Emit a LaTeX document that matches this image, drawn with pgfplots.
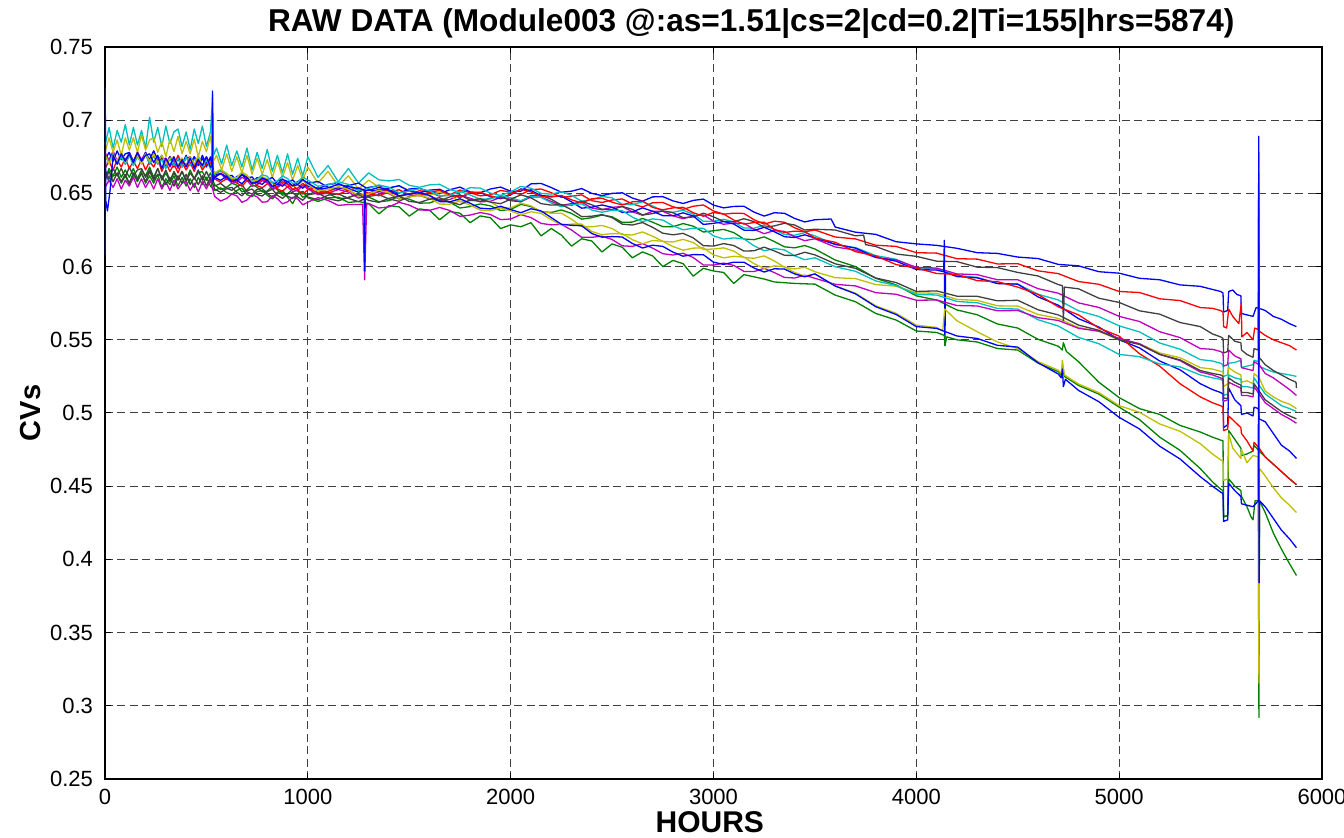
\documentclass[border=0pt]{standalone}
\usepackage{pgfplots}
\pgfplotsset{compat=1.18}
\usepackage{fontspec}
\setmainfont{Liberation Sans}
\usetikzlibrary{calc}
\definecolor{mb}{rgb}{0,0,1}
\definecolor{mg}{rgb}{0,0.5,0}
\definecolor{mr}{rgb}{1,0,0}
\definecolor{mc}{rgb}{0,0.75,0.75}
\definecolor{mm}{rgb}{0.75,0,0.75}
\definecolor{my}{rgb}{0.75,0.75,0}
\definecolor{mk}{rgb}{0.25,0.25,0.25}
\begin{document}
\begin{tikzpicture}
\begin{axis}[
 scale only axis, width=608.5pt, height=366pt,
 xmin=0, xmax=6000, ymin=0.25, ymax=0.75,
 xtick={0,1000,2000,3000,4000,5000,6000},
 ytick={0.25,0.3,0.35,0.4,0.45,0.5,0.55,0.6,0.65,0.7,0.75},
 grid=major,
 major grid style={dash pattern=on 4pt off 2.2pt, black!75, line width=0.5pt},
 axis line style={line width=0.9pt},
 tick style={black, line width=0.5pt}, tick align=inside, major tick length=3pt,
 /pgf/number format/assume math mode=true,
 /pgf/number format/1000 sep={},
 ticklabel style={font=\fontsize{11}{13}\selectfont},
 yticklabel style={xshift=-2.5pt},
 xticklabel style={yshift=-1.5pt},
 title={RAW DATA (Module003 @:as=1.51|cs=2|cd=0.2|Ti=155|hrs=5874)},
 title style={font=\bfseries\fontsize{15.8}{18}\selectfont, at={(0.531,1.0342)}, anchor=center, yshift=-7pt},
 xlabel={HOURS},
 xlabel style={font=\bfseries\fontsize{15}{18}\selectfont, at={(0.497,-0.0585)}, anchor=center},
 ylabel={CVs},
 ylabel style={font=\bfseries\fontsize{14.5}{17}\selectfont, at={(-0.0616,0.5)}, anchor=center},
 every axis plot/.append style={line width=0.65pt, line join=round, mark=none},
]
\coordinate (bl) at (rel axis cs:0,0);
\coordinate (tr) at (rel axis cs:1,1);
% blue A
\addplot[mb] coordinates {(0,0.677)(20,0.671)(40,0.676)(60,0.670)(80,0.677)(100,0.672)(120,0.678)(140,0.671)(160,0.676)(180,0.671)(200,0.677)(220,0.670)(240,0.676)(260,0.672)(280,0.676)(300,0.669)(320,0.675)(340,0.669)(360,0.674)(380,0.668)(400,0.675)(420,0.670)(440,0.675)(460,0.669)(480,0.676)(500,0.670)(520,0.674)(540,0.6625)(570,0.6636)(600,0.6597)(625,0.6586)(650,0.6615)(675,0.6632)(700,0.6589)(725,0.6573)(750,0.6607)(775,0.6609)(800,0.6571)(825,0.6548)(850,0.6584)(875,0.6599)(900,0.6563)(925,0.6552)(950,0.6581)(975,0.6596)(1000,0.655)(1050,0.6531)(1100,0.6562)(1150,0.6568)(1200,0.6534)(1250,0.6508)(1300,0.6541)(1350,0.6552)(1400,0.6523)(1450,0.6502)(1500,0.653)(1550,0.6535)(1600,0.651)(1650,0.6498)(1700,0.6525)(1750,0.6543)(1800,0.651)(1850,0.6505)(1900,0.653)(1950,0.6543)(2000,0.6515)(2050,0.6515)(2100,0.6565)(2150,0.6568)(2200,0.654)(2250,0.6508)(2300,0.6515)(2350,0.6533)(2400,0.650)(2450,0.6485)(2500,0.650)(2550,0.6504)(2600,0.6468)(2650,0.6447)(2700,0.6476)(2750,0.6478)(2800,0.6449)(2850,0.6431)(2900,0.6452)(2950,0.6461)(3000,0.642)(3050,0.6401)(3100,0.6411)(3150,0.6412)(3200,0.6372)(3250,0.6345)(3300,0.6368)(3350,0.6364)(3400,0.6329)(3450,0.6305)(3500,0.632)(3580,0.6325)(3600,0.627)(3700,0.6235)(3800,0.622)(3900,0.617)(4000,0.6155)(4100,0.6145)(4200,0.6125)(4300,0.6095)(4400,0.609)(4500,0.6065)(4600,0.6055)(4700,0.6015)(4800,0.6005)(4900,0.5965)(5000,0.5955)(5100,0.592)(5200,0.591)(5300,0.5875)(5400,0.5865)(5500,0.583)(5512,0.582)(5515,0.569)(5535,0.570)(5540,0.583)(5560,0.584)(5580,0.581)(5600,0.580)(5603,0.568)(5630,0.567)(5660,0.566)(5675,0.572)(5700,0.571)(5720,0.570)(5760,0.566)(5800,0.564)(5840,0.561)(5874,0.559)};
% green A
\addplot[mg] coordinates {(0,0.660)(20,0.667)(40,0.662)(60,0.668)(80,0.661)(100,0.666)(120,0.661)(140,0.667)(160,0.660)(180,0.666)(200,0.662)(220,0.668)(240,0.661)(260,0.667)(280,0.659)(300,0.664)(320,0.658)(340,0.665)(360,0.660)(380,0.665)(400,0.659)(420,0.666)(440,0.660)(460,0.664)(480,0.665)(500,0.659)(520,0.664)(540,0.656)(570,0.6526)(600,0.6542)(625,0.6569)(650,0.6556)(675,0.651)(700,0.6524)(725,0.6559)(750,0.6543)(775,0.651)(800,0.6516)(825,0.6551)(850,0.6525)(875,0.6487)(900,0.6498)(925,0.6528)(950,0.6517)(975,0.6474)(1000,0.649)(1050,0.652)(1100,0.650)(1150,0.6465)(1200,0.647)(1250,0.6503)(1300,0.6475)(1350,0.6443)(1400,0.645)(1450,0.648)(1500,0.646)(1550,0.6433)(1600,0.6435)(1650,0.6458)(1700,0.644)(1750,0.640)(1800,0.641)(1850,0.6428)(1900,0.6415)(1950,0.6383)(2000,0.639)(2050,0.6425)(2100,0.641)(2150,0.6375)(2200,0.637)(2250,0.6387)(2300,0.6363)(2350,0.6324)(2400,0.6334)(2450,0.6352)(2500,0.634)(2550,0.6302)(2600,0.6304)(2650,0.6329)(2700,0.6303)(2750,0.6273)(2800,0.6272)(2850,0.6294)(2900,0.6276)(2950,0.6236)(3000,0.6245)(3050,0.6254)(3100,0.6232)(3150,0.6188)(3200,0.6184)(3250,0.6203)(3300,0.6171)(3350,0.6135)(3400,0.6128)(3450,0.6144)(3500,0.612)(3600,0.6045)(3700,0.600)(3800,0.592)(3900,0.5875)(4000,0.580)(4100,0.5772)(4200,0.5704)(4300,0.5671)(4400,0.5608)(4500,0.558)(4600,0.5503)(4700,0.5456)(4720,0.543)(4725,0.548)(4740,0.542)(4800,0.535)(4900,0.521)(5000,0.5105)(5100,0.503)(5200,0.499)(5300,0.4915)(5400,0.487)(5460,0.4835)(5500,0.4815)(5512,0.481)(5515,0.429)(5535,0.430)(5540,0.488)(5570,0.482)(5600,0.476)(5603,0.471)(5630,0.472)(5660,0.474)(5665,0.478)(5690,0.474)(5720,0.470)(5760,0.465)(5800,0.460)(5840,0.455)(5874,0.451)};
% red A
\addplot[mr] coordinates {(0,0.678)(20,0.671)(40,0.676)(60,0.671)(80,0.677)(100,0.670)(120,0.676)(140,0.672)(160,0.678)(180,0.671)(200,0.677)(220,0.671)(240,0.676)(260,0.670)(280,0.675)(300,0.670)(320,0.675)(340,0.669)(360,0.676)(380,0.670)(400,0.674)(420,0.675)(440,0.669)(460,0.674)(480,0.668)(500,0.675)(520,0.670)(528,0.671)(530,0.718)(532,0.664)(540,0.663)(570,0.6654)(600,0.6627)(625,0.6589)(650,0.6591)(675,0.6631)(700,0.661)(725,0.6567)(750,0.6574)(775,0.6596)(800,0.6578)(825,0.6533)(850,0.6548)(875,0.658)(900,0.6562)(925,0.6529)(950,0.6536)(975,0.6568)(1000,0.654)(1050,0.6502)(1100,0.6514)(1150,0.6539)(1200,0.6523)(1250,0.6483)(1300,0.6502)(1350,0.6529)(1400,0.6516)(1450,0.6481)(1500,0.6495)(1550,0.6518)(1600,0.651)(1650,0.648)(1700,0.649)(1750,0.6523)(1800,0.6505)(1850,0.6483)(1900,0.649)(1950,0.652)(2000,0.651)(2050,0.6493)(2100,0.6525)(2150,0.653)(2200,0.6505)(2250,0.6473)(2300,0.648)(2350,0.649)(2400,0.645)(2450,0.6438)(2500,0.6455)(2550,0.6462)(2600,0.6428)(2650,0.6407)(2700,0.6436)(2750,0.6438)(2800,0.6409)(2850,0.6391)(2900,0.6412)(2950,0.6421)(3000,0.638)(3050,0.6358)(3100,0.6365)(3150,0.6363)(3200,0.632)(3250,0.629)(3300,0.631)(3350,0.6303)(3400,0.6265)(3450,0.6238)(3500,0.625)(3600,0.6202)(3700,0.6189)(3800,0.6146)(3900,0.6138)(4000,0.6095)(4100,0.6092)(4200,0.6054)(4300,0.6051)(4400,0.6018)(4500,0.602)(4600,0.5971)(4700,0.5952)(4800,0.5898)(4900,0.5879)(5000,0.583)(5100,0.5823)(5200,0.578)(5300,0.5768)(5400,0.572)(5460,0.5715)(5500,0.570)(5512,0.569)(5515,0.559)(5530,0.558)(5540,0.571)(5560,0.566)(5590,0.561)(5602,0.575)(5605,0.552)(5630,0.555)(5660,0.550)(5668,0.558)(5686,0.557)(5688,0.678)(5690,0.556)(5720,0.553)(5760,0.550)(5800,0.548)(5840,0.546)(5874,0.543)};
% cyan A
\addplot[mc] coordinates {(0,0.683)(20,0.695)(40,0.681)(60,0.693)(80,0.685)(100,0.697)(120,0.683)(140,0.695)(160,0.683)(180,0.693)(200,0.681)(220,0.702)(240,0.685)(260,0.695)(280,0.682)(300,0.696)(320,0.684)(340,0.692)(360,0.694)(380,0.682)(400,0.692)(420,0.680)(440,0.694)(460,0.684)(480,0.696)(500,0.682)(520,0.692)(530,0.716)(535,0.676)(550,0.681)(575,0.670)(600,0.683)(625,0.669)(650,0.679)(675,0.668)(700,0.681)(725,0.666)(750,0.678)(775,0.667)(800,0.680)(825,0.665)(850,0.676)(875,0.664)(900,0.677)(925,0.663)(950,0.674)(975,0.662)(1000,0.675)(1050,0.661)(1100,0.669)(1150,0.658)(1200,0.667)(1250,0.657)(1300,0.664)(1350,0.6593)(1400,0.6585)(1450,0.6595)(1500,0.6555)(1550,0.6542)(1600,0.6558)(1650,0.6562)(1700,0.6526)(1750,0.6508)(1800,0.6539)(1850,0.6536)(1900,0.6502)(1950,0.6486)(2000,0.651)(2050,0.6548)(2100,0.6535)(2150,0.650)(2200,0.6495)(2250,0.6511)(2300,0.6486)(2350,0.6447)(2400,0.6458)(2450,0.6479)(2500,0.647)(2550,0.6426)(2600,0.6422)(2650,0.6443)(2700,0.6414)(2750,0.6378)(2800,0.6371)(2850,0.6385)(2900,0.6358)(2950,0.6309)(3000,0.631)(3050,0.6323)(3100,0.6306)(3150,0.6264)(3200,0.6262)(3250,0.6283)(3300,0.6253)(3350,0.6219)(3400,0.6214)(3450,0.6232)(3500,0.621)(3600,0.615)(3700,0.613)(3800,0.6075)(3900,0.605)(4000,0.599)(4100,0.5984)(4200,0.5938)(4300,0.5927)(4400,0.5886)(4500,0.588)(4600,0.5811)(4700,0.5772)(4800,0.5698)(4900,0.5659)(5000,0.5595)(5100,0.5554)(5200,0.5478)(5300,0.5436)(5400,0.5365)(5460,0.5355)(5500,0.534)(5512,0.533)(5515,0.525)(5535,0.526)(5540,0.534)(5570,0.5345)(5600,0.536)(5603,0.531)(5630,0.532)(5660,0.533)(5665,0.536)(5687,0.535)(5689,0.664)(5691,0.532)(5720,0.530)(5760,0.528)(5800,0.527)(5840,0.526)(5874,0.525)};
% magenta A
\addplot[mm] coordinates {(0,0.677)(20,0.673)(40,0.679)(60,0.672)(80,0.678)(100,0.672)(120,0.677)(140,0.671)(160,0.678)(180,0.673)(200,0.678)(220,0.672)(240,0.679)(260,0.673)(280,0.673)(300,0.674)(320,0.668)(340,0.673)(360,0.667)(380,0.674)(400,0.669)(420,0.675)(440,0.668)(460,0.673)(480,0.668)(500,0.674)(520,0.667)(540,0.661)(570,0.6634)(600,0.6608)(625,0.6571)(650,0.6573)(675,0.6611)(700,0.6589)(725,0.6549)(750,0.6559)(775,0.6587)(800,0.6574)(825,0.6527)(850,0.6539)(875,0.6567)(900,0.6545)(925,0.6513)(950,0.652)(975,0.6555)(1000,0.653)(1050,0.6491)(1100,0.6502)(1150,0.6526)(1200,0.6509)(1250,0.6468)(1300,0.6486)(1350,0.6512)(1400,0.6498)(1450,0.6462)(1500,0.6475)(1550,0.6495)(1600,0.6484)(1650,0.6451)(1700,0.6458)(1750,0.6488)(1800,0.6467)(1850,0.6442)(1900,0.6446)(1950,0.6473)(2000,0.646)(2050,0.6443)(2100,0.6475)(2150,0.6475)(2200,0.6445)(2250,0.6418)(2300,0.643)(2350,0.644)(2400,0.640)(2450,0.6388)(2500,0.6405)(2550,0.641)(2600,0.6374)(2650,0.6351)(2700,0.6378)(2750,0.6378)(2800,0.6347)(2850,0.6327)(2900,0.6346)(2950,0.6353)(3000,0.631)(3050,0.6289)(3100,0.6297)(3150,0.6296)(3200,0.6254)(3250,0.6225)(3300,0.6246)(3350,0.624)(3400,0.6203)(3450,0.6177)(3500,0.619)(3600,0.6134)(3700,0.6113)(3800,0.6062)(3900,0.6046)(4000,0.5995)(4100,0.599)(4200,0.595)(4300,0.5945)(4400,0.591)(4500,0.591)(4600,0.5849)(4700,0.5818)(4800,0.5752)(4900,0.5721)(5000,0.566)(5100,0.5625)(5200,0.5555)(5300,0.5515)(5400,0.544)(5460,0.5435)(5500,0.542)(5512,0.541)(5515,0.532)(5535,0.533)(5540,0.543)(5570,0.539)(5600,0.537)(5603,0.531)(5630,0.530)(5660,0.529)(5665,0.535)(5690,0.533)(5720,0.527)(5760,0.524)(5800,0.520)(5840,0.516)(5874,0.512)};
% yellow A
\addplot[my] coordinates {(0,0.678)(20,0.688)(40,0.678)(60,0.6865)(80,0.676)(100,0.688)(120,0.6795)(140,0.688)(160,0.678)(180,0.690)(200,0.6795)(220,0.6865)(240,0.688)(260,0.678)(280,0.6855)(300,0.675)(320,0.687)(340,0.6785)(360,0.689)(380,0.677)(400,0.6855)(420,0.677)(440,0.687)(460,0.675)(480,0.6855)(500,0.6785)(520,0.689)(535,0.672)(550,0.676)(575,0.666)(600,0.677)(625,0.665)(650,0.675)(675,0.664)(700,0.676)(725,0.663)(750,0.674)(775,0.663)(800,0.673)(825,0.661)(850,0.672)(875,0.661)(900,0.671)(925,0.659)(950,0.669)(975,0.659)(1000,0.668)(1050,0.657)(1100,0.665)(1150,0.655)(1200,0.662)(1250,0.653)(1300,0.659)(1350,0.6543)(1400,0.6535)(1450,0.6553)(1500,0.652)(1550,0.6489)(1600,0.6488)(1650,0.6507)(1700,0.6486)(1750,0.6443)(1800,0.6449)(1850,0.6461)(1900,0.6442)(1950,0.6401)(2000,0.640)(2050,0.6433)(2100,0.6415)(2150,0.6375)(2200,0.6365)(2250,0.6365)(2300,0.6324)(2350,0.6273)(2400,0.6272)(2450,0.6281)(2500,0.626)(2550,0.6218)(2600,0.6216)(2650,0.6237)(2700,0.6207)(2750,0.6173)(2800,0.6168)(2850,0.6186)(2900,0.6164)(2950,0.6117)(3000,0.612)(3050,0.6128)(3100,0.6106)(3150,0.6062)(3200,0.6057)(3250,0.6073)(3300,0.6038)(3350,0.5996)(3400,0.5984)(3450,0.5995)(3500,0.5965)(3600,0.5924)(3700,0.5918)(3800,0.5877)(3900,0.5866)(4000,0.582)(4100,0.5818)(4200,0.5776)(4300,0.5769)(4400,0.5732)(4500,0.573)(4600,0.5673)(4700,0.5646)(4800,0.5584)(4900,0.5557)(5000,0.550)(5100,0.5473)(5200,0.541)(5300,0.5378)(5400,0.531)(5460,0.530)(5500,0.5285)(5512,0.528)(5515,0.518)(5535,0.520)(5540,0.531)(5570,0.528)(5600,0.526)(5603,0.521)(5630,0.522)(5660,0.520)(5665,0.527)(5690,0.524)(5720,0.515)(5760,0.511)(5800,0.508)(5840,0.506)(5874,0.503)};
% gray A
\addplot[mk] coordinates {(0,0.666)(20,0.660)(40,0.667)(60,0.662)(80,0.667)(100,0.661)(120,0.668)(140,0.662)(160,0.666)(180,0.667)(200,0.661)(220,0.666)(240,0.660)(260,0.667)(280,0.660)(300,0.666)(320,0.659)(340,0.664)(360,0.659)(380,0.665)(400,0.658)(420,0.664)(440,0.660)(460,0.666)(480,0.659)(500,0.665)(520,0.659)(540,0.655)(570,0.6568)(600,0.6535)(625,0.6521)(650,0.6547)(675,0.6559)(700,0.6511)(725,0.6495)(750,0.6528)(775,0.6534)(800,0.650)(825,0.6474)(850,0.6508)(875,0.6519)(900,0.648)(925,0.6467)(950,0.6493)(975,0.6514)(1000,0.6475)(1050,0.6457)(1100,0.6488)(1150,0.6497)(1200,0.6466)(1250,0.6443)(1300,0.6479)(1350,0.6491)(1400,0.6462)(1450,0.6446)(1500,0.648)(1550,0.6487)(1600,0.6463)(1650,0.645)(1700,0.6476)(1750,0.649)(1800,0.6454)(1850,0.6446)(1900,0.6467)(1950,0.6479)(2000,0.645)(2050,0.6443)(2100,0.6485)(2150,0.6488)(2200,0.646)(2250,0.642)(2300,0.6419)(2350,0.6446)(2400,0.6422)(2450,0.6391)(2500,0.639)(2550,0.6411)(2600,0.6391)(2650,0.6352)(2700,0.6362)(2750,0.638)(2800,0.6368)(2850,0.6334)(2900,0.6339)(2950,0.6365)(3000,0.634)(3050,0.6308)(3100,0.6306)(3150,0.6327)(3200,0.6307)(3250,0.6268)(3300,0.6278)(3350,0.6296)(3400,0.6284)(3450,0.625)(3500,0.6255)(3600,0.625)(3700,0.621)(3740,0.6215)(3750,0.615)(3800,0.6137)(3900,0.6086)(4000,0.607)(4100,0.6037)(4200,0.6034)(4300,0.5996)(4400,0.5993)(4500,0.596)(4600,0.5936)(4700,0.5877)(4720,0.587)(4725,0.563)(4730,0.586)(4800,0.5848)(4900,0.5784)(5000,0.5755)(5100,0.5698)(5200,0.5675)(5300,0.5618)(5400,0.559)(5460,0.554)(5500,0.552)(5512,0.551)(5515,0.541)(5535,0.542)(5540,0.553)(5570,0.549)(5600,0.548)(5603,0.543)(5630,0.540)(5660,0.538)(5665,0.544)(5686,0.543)(5688,0.652)(5690,0.538)(5720,0.533)(5760,0.529)(5800,0.526)(5840,0.523)(5872,0.521)(5874,0.517)};
% blue B
\addplot[mb] coordinates {(0,0.673)(20,0.678)(40,0.672)(60,0.679)(80,0.673)(100,0.677)(120,0.678)(140,0.672)(160,0.677)(180,0.671)(200,0.678)(220,0.673)(240,0.679)(260,0.672)(280,0.674)(300,0.669)(320,0.675)(340,0.668)(360,0.674)(380,0.670)(400,0.676)(420,0.669)(440,0.675)(460,0.669)(480,0.674)(500,0.668)(520,0.675)(540,0.661)(570,0.6589)(600,0.6618)(625,0.6623)(650,0.6588)(675,0.6566)(700,0.6603)(725,0.6613)(750,0.6572)(775,0.6562)(800,0.6592)(825,0.6609)(850,0.6566)(875,0.6549)(900,0.6581)(925,0.6591)(950,0.656)(975,0.6535)(1000,0.657)(1050,0.6581)(1100,0.6542)(1150,0.6528)(1200,0.6554)(1250,0.657)(1300,0.6526)(1350,0.6512)(1400,0.6538)(1450,0.6552)(1500,0.6515)(1550,0.6504)(1600,0.6522)(1650,0.6528)(1700,0.6494)(1750,0.6473)(1800,0.6501)(1850,0.6505)(1900,0.6478)(1950,0.6464)(2000,0.649)(2050,0.653)(2100,0.652)(2150,0.6485)(2200,0.648)(2250,0.6481)(2300,0.6442)(2350,0.6399)(2400,0.6406)(2450,0.6421)(2500,0.6405)(2550,0.637)(2600,0.6374)(2650,0.6401)(2700,0.6378)(2750,0.6348)(2800,0.6347)(2850,0.6367)(2900,0.6346)(2950,0.6288)(3000,0.6295)(3050,0.6308)(3100,0.6291)(3150,0.6249)(3200,0.6247)(3250,0.6268)(3300,0.6238)(3350,0.6204)(3400,0.6199)(3450,0.6217)(3500,0.6195)(3600,0.6153)(3700,0.6126)(3800,0.6064)(3900,0.6037)(4000,0.598)(4100,0.5976)(4135,0.5965)(4138,0.618)(4141,0.546)(4144,0.596)(4200,0.5932)(4300,0.5923)(4400,0.5884)(4500,0.588)(4600,0.5793)(4700,0.5736)(4800,0.5644)(4900,0.5587)(5000,0.550)(5100,0.5445)(5200,0.5355)(5300,0.5295)(5400,0.520)(5460,0.516)(5500,0.514)(5512,0.513)(5515,0.490)(5535,0.492)(5540,0.517)(5570,0.509)(5600,0.505)(5603,0.499)(5630,0.500)(5660,0.498)(5665,0.504)(5686,0.503)(5690,0.496)(5720,0.494)(5760,0.486)(5800,0.478)(5840,0.474)(5874,0.469)};
% green B
\addplot[mg] coordinates {(0,0.664)(20,0.658)(40,0.662)(60,0.663)(80,0.657)(100,0.662)(120,0.656)(140,0.663)(160,0.658)(180,0.664)(200,0.657)(220,0.662)(240,0.657)(260,0.663)(280,0.654)(300,0.660)(320,0.656)(340,0.662)(360,0.655)(380,0.661)(400,0.655)(420,0.660)(440,0.654)(460,0.661)(480,0.656)(500,0.661)(520,0.655)(540,0.652)(570,0.6538)(600,0.6505)(625,0.6493)(650,0.652)(675,0.6536)(700,0.6491)(725,0.6477)(750,0.6512)(775,0.652)(800,0.6487)(825,0.6463)(850,0.6498)(875,0.6511)(900,0.6474)(925,0.643)(950,0.6494)(975,0.6512)(1000,0.647)(1050,0.6445)(1100,0.6469)(1150,0.6474)(1200,0.6438)(1250,0.6445)(1300,0.643)(1350,0.636)(1400,0.6416)(1450,0.6408)(1500,0.6345)(1550,0.6394)(1600,0.6385)(1650,0.632)(1700,0.6376)(1750,0.6365)(1800,0.630)(1850,0.6346)(1900,0.6334)(1950,0.626)(2000,0.6285)(2050,0.6272)(2100,0.630)(2150,0.621)(2200,0.626)(2250,0.6215)(2300,0.614)(2350,0.619)(2400,0.6175)(2450,0.610)(2500,0.6155)(2550,0.6132)(2600,0.606)(2650,0.610)(2700,0.6073)(2750,0.600)(2800,0.6042)(2850,0.602)(2900,0.5935)(2950,0.5988)(3000,0.597)(3050,0.596)(3100,0.5885)(3150,0.5945)(3200,0.593)(3250,0.5915)(3300,0.5895)(3400,0.5885)(3500,0.588)(3600,0.5805)(3700,0.576)(3800,0.568)(3900,0.5635)(4000,0.556)(4100,0.555)(4138,0.553)(4141,0.546)(4150,0.552)(4200,0.550)(4300,0.5485)(4400,0.544)(4500,0.543)(4600,0.5341)(4700,0.5282)(4715,0.526)(4720,0.532)(4730,0.525)(4800,0.5188)(4900,0.5129)(5000,0.504)(5100,0.4955)(5200,0.4835)(5300,0.4745)(5400,0.462)(5460,0.453)(5500,0.448)(5512,0.447)(5515,0.429)(5535,0.430)(5540,0.455)(5570,0.450)(5600,0.447)(5603,0.443)(5630,0.436)(5650,0.429)(5660,0.427)(5670,0.440)(5686,0.440)(5689,0.292)(5692,0.440)(5720,0.432)(5760,0.418)(5800,0.407)(5840,0.397)(5874,0.389)};
% red B
\addplot[mr] coordinates {(0,0.667)(20,0.672)(40,0.666)(60,0.673)(80,0.668)(100,0.674)(120,0.667)(140,0.672)(160,0.667)(180,0.673)(200,0.666)(220,0.672)(240,0.668)(260,0.674)(280,0.665)(300,0.671)(320,0.665)(340,0.670)(360,0.664)(380,0.671)(400,0.666)(420,0.671)(440,0.665)(460,0.672)(480,0.666)(500,0.670)(520,0.671)(540,0.660)(570,0.6575)(600,0.660)(625,0.6606)(650,0.6571)(675,0.6549)(700,0.6587)(725,0.6595)(750,0.6553)(775,0.6539)(800,0.6565)(825,0.6578)(850,0.6531)(875,0.6514)(900,0.6547)(925,0.6556)(950,0.6524)(975,0.6495)(1000,0.6525)(1050,0.6541)(1100,0.6506)(1150,0.6494)(1200,0.6522)(1250,0.654)(1300,0.6498)(1350,0.6484)(1400,0.6509)(1450,0.6525)(1500,0.649)(1550,0.6484)(1600,0.6508)(1650,0.652)(1700,0.6491)(1750,0.6473)(1800,0.6504)(1850,0.6508)(1900,0.6482)(1950,0.6469)(2000,0.6495)(2050,0.6528)(2100,0.651)(2150,0.6478)(2200,0.6475)(2250,0.6486)(2300,0.6456)(2350,0.6435)(2400,0.6463)(2450,0.6467)(2500,0.644)(2550,0.6421)(2600,0.6442)(2650,0.6448)(2700,0.6404)(2750,0.6388)(2800,0.6401)(2850,0.6405)(2900,0.6368)(2950,0.6344)(3000,0.637)(3050,0.6359)(3100,0.6318)(3150,0.629)(3200,0.6301)(3250,0.6303)(3300,0.6254)(3350,0.6233)(3400,0.6242)(3450,0.6239)(3500,0.6195)(3600,0.6166)(3700,0.6102)(3800,0.6073)(3900,0.6014)(4000,0.599)(4100,0.5953)(4200,0.5946)(4300,0.5904)(4400,0.5897)(4500,0.586)(4600,0.581)(4700,0.5725)(4800,0.567)(4900,0.558)(5000,0.5525)(5100,0.5405)(5200,0.532)(5300,0.520)(5400,0.511)(5460,0.507)(5500,0.505)(5512,0.504)(5515,0.488)(5535,0.489)(5540,0.498)(5570,0.494)(5600,0.490)(5603,0.486)(5630,0.481)(5660,0.474)(5665,0.480)(5690,0.476)(5720,0.470)(5760,0.465)(5800,0.460)(5840,0.455)(5874,0.451)};
% cyan B
\addplot[mc] coordinates {(0,0.676)(20,0.671)(40,0.677)(60,0.670)(80,0.675)(100,0.670)(120,0.676)(140,0.669)(160,0.675)(180,0.671)(200,0.677)(220,0.670)(240,0.676)(260,0.670)(280,0.673)(300,0.667)(320,0.674)(340,0.669)(360,0.674)(380,0.668)(400,0.675)(420,0.669)(440,0.673)(460,0.674)(480,0.668)(500,0.673)(520,0.667)(540,0.663)(570,0.6657)(600,0.6633)(625,0.6598)(650,0.6603)(675,0.6643)(700,0.6623)(725,0.6585)(750,0.6597)(775,0.6627)(800,0.6617)(825,0.6572)(850,0.6586)(875,0.6619)(900,0.6601)(925,0.6568)(950,0.6575)(975,0.6613)(1000,0.659)(1050,0.6549)(1100,0.6558)(1150,0.658)(1200,0.6561)(1250,0.6518)(1300,0.6534)(1350,0.6558)(1400,0.6542)(1450,0.6504)(1500,0.6515)(1550,0.6532)(1600,0.6518)(1650,0.6482)(1700,0.6486)(1750,0.6513)(1800,0.6489)(1850,0.6461)(1900,0.6462)(1950,0.6486)(2000,0.647)(2050,0.645)(2100,0.648)(2150,0.6473)(2200,0.6435)(2250,0.6409)(2300,0.6422)(2350,0.6429)(2400,0.6386)(2450,0.6371)(2500,0.6385)(2550,0.6382)(2600,0.6338)(2650,0.6307)(2700,0.6326)(2750,0.6318)(2800,0.6279)(2850,0.6251)(2900,0.6262)(2950,0.6261)(3000,0.621)(3050,0.6188)(3100,0.6196)(3150,0.6189)(3200,0.6142)(3250,0.6108)(3300,0.6123)(3350,0.6114)(3400,0.6074)(3450,0.6047)(3500,0.606)(3600,0.5999)(3700,0.5968)(3800,0.5902)(3900,0.5871)(4000,0.581)(4100,0.5806)(4200,0.5762)(4300,0.5753)(4400,0.5714)(4500,0.571)(4600,0.5637)(4700,0.5594)(4800,0.5516)(4900,0.5473)(5000,0.540)(5100,0.5385)(5200,0.5335)(5300,0.5315)(5400,0.526)(5460,0.524)(5500,0.523)(5512,0.522)(5515,0.512)(5535,0.513)(5540,0.526)(5570,0.524)(5600,0.523)(5603,0.518)(5630,0.518)(5660,0.517)(5665,0.524)(5690,0.519)(5720,0.513)(5760,0.509)(5800,0.505)(5840,0.503)(5874,0.501)};
% magenta B
\addplot[mm] coordinates {(0,0.654)(20,0.659)(40,0.654)(60,0.660)(80,0.653)(100,0.659)(120,0.655)(140,0.661)(160,0.654)(180,0.660)(200,0.654)(220,0.659)(240,0.653)(260,0.660)(280,0.653)(300,0.658)(320,0.652)(340,0.659)(360,0.653)(380,0.657)(400,0.658)(420,0.652)(440,0.657)(460,0.651)(480,0.658)(500,0.653)(520,0.659)(540,0.648)(570,0.6448)(600,0.6466)(625,0.6495)(650,0.6483)(675,0.6439)(700,0.6455)(725,0.6491)(750,0.6476)(775,0.644)(800,0.6443)(825,0.6484)(850,0.6465)(875,0.6429)(900,0.6442)(925,0.6473)(950,0.6463)(975,0.6422)(1000,0.644)(1050,0.6471)(1100,0.6452)(1150,0.6418)(1200,0.6424)(1270,0.6425)(1280,0.591)(1290,0.6425)(1300,0.6431)(1350,0.640)(1400,0.6408)(1450,0.6439)(1500,0.642)(1550,0.6387)(1600,0.6384)(1650,0.6404)(1700,0.6383)(1750,0.6343)(1800,0.6352)(1850,0.6369)(1900,0.6356)(1950,0.6321)(2000,0.6325)(2050,0.6355)(2100,0.6335)(2150,0.6295)(2200,0.6285)(2250,0.6288)(2300,0.625)(2350,0.620)(2400,0.620)(2450,0.6208)(2500,0.6185)(2550,0.6142)(2600,0.6138)(2650,0.6157)(2700,0.6126)(2750,0.6088)(2800,0.6079)(2850,0.6091)(2900,0.6062)(2950,0.6011)(3000,0.601)(3050,0.6024)(3100,0.6008)(3150,0.5967)(3200,0.5966)(3250,0.5988)(3300,0.5959)(3350,0.5926)(3400,0.5922)(3450,0.5941)(3500,0.592)(3600,0.5879)(3700,0.5868)(3800,0.5822)(3900,0.5811)(4000,0.577)(4100,0.5772)(4200,0.5734)(4300,0.5731)(4400,0.5698)(4500,0.570)(4600,0.5651)(4700,0.5632)(4800,0.5578)(4900,0.5559)(5000,0.551)(5100,0.5473)(5200,0.540)(5300,0.5358)(5400,0.528)(5460,0.526)(5500,0.524)(5512,0.523)(5515,0.508)(5535,0.509)(5540,0.521)(5570,0.519)(5600,0.517)(5603,0.512)(5630,0.512)(5660,0.511)(5665,0.518)(5690,0.513)(5720,0.507)(5760,0.503)(5800,0.499)(5840,0.496)(5874,0.493)};
% yellow B
\addplot[my] coordinates {(0,0.677)(20,0.670)(40,0.676)(60,0.672)(80,0.678)(100,0.671)(120,0.677)(140,0.671)(160,0.676)(180,0.670)(200,0.677)(220,0.672)(240,0.677)(260,0.671)(280,0.676)(300,0.670)(320,0.674)(340,0.675)(360,0.669)(380,0.674)(400,0.668)(420,0.675)(440,0.670)(460,0.676)(480,0.669)(500,0.674)(520,0.669)(540,0.664)(570,0.6664)(600,0.6638)(625,0.6603)(650,0.6608)(675,0.6646)(700,0.6624)(725,0.6582)(750,0.6589)(775,0.6614)(800,0.6599)(825,0.6552)(850,0.6564)(875,0.6597)(900,0.658)(925,0.6548)(950,0.6555)(975,0.6588)(1000,0.656)(1050,0.6518)(1100,0.6526)(1150,0.6547)(1200,0.6527)(1250,0.6483)(1300,0.6498)(1350,0.6521)(1400,0.6504)(1450,0.6465)(1500,0.6475)(1550,0.6487)(1600,0.6468)(1650,0.6427)(1700,0.6426)(1750,0.6448)(1800,0.6419)(1850,0.6386)(1900,0.6382)(1950,0.6401)(2000,0.638)(2050,0.6353)(2100,0.6375)(2150,0.6363)(2200,0.632)(2250,0.6285)(2300,0.629)(2350,0.629)(2400,0.624)(2450,0.6218)(2500,0.6225)(2550,0.6225)(2600,0.6184)(2650,0.6156)(2700,0.6178)(2750,0.6173)(2800,0.6137)(2850,0.6112)(2900,0.6126)(2950,0.6128)(3000,0.608)(3050,0.606)(3100,0.607)(3150,0.6065)(3200,0.602)(3250,0.5988)(3300,0.6005)(3350,0.5998)(3400,0.596)(3450,0.5935)(3500,0.595)(3600,0.5869)(3700,0.5818)(3800,0.5732)(3900,0.5681)(4000,0.560)(4100,0.5584)(4130,0.556)(4140,0.571)(4200,0.563)(4300,0.5555)(4400,0.5485)(4500,0.544)(4600,0.5351)(4700,0.5292)(4715,0.527)(4720,0.536)(4730,0.526)(4800,0.5198)(4900,0.5139)(5000,0.505)(5100,0.5005)(5200,0.4925)(5300,0.4875)(5400,0.479)(5460,0.472)(5500,0.468)(5512,0.467)(5515,0.454)(5535,0.455)(5540,0.486)(5560,0.476)(5600,0.469)(5603,0.475)(5630,0.466)(5660,0.471)(5686,0.470)(5689,0.3156)(5692,0.462)(5720,0.457)(5760,0.449)(5800,0.442)(5840,0.437)(5874,0.432)};
% gray B
\addplot[mk] coordinates {(0,0.659)(20,0.665)(40,0.658)(60,0.664)(80,0.658)(100,0.663)(120,0.657)(140,0.664)(160,0.659)(180,0.664)(200,0.658)(220,0.665)(240,0.659)(260,0.663)(280,0.662)(300,0.656)(320,0.661)(340,0.655)(360,0.662)(380,0.657)(400,0.663)(420,0.656)(440,0.661)(460,0.656)(480,0.662)(500,0.655)(520,0.661)(540,0.653)(570,0.6507)(600,0.6533)(625,0.6541)(650,0.6508)(675,0.6483)(700,0.6518)(725,0.653)(750,0.6492)(775,0.6482)(800,0.6512)(825,0.6529)(850,0.6486)(875,0.6466)(900,0.6496)(925,0.6506)(950,0.6475)(975,0.6453)(1000,0.649)(1050,0.6502)(1100,0.6464)(1150,0.6449)(1200,0.6473)(1250,0.6493)(1300,0.6452)(1350,0.6439)(1400,0.6466)(1450,0.6481)(1500,0.6445)(1550,0.6438)(1600,0.646)(1650,0.647)(1700,0.644)(1750,0.6423)(1800,0.6455)(1850,0.6463)(1900,0.644)(1950,0.643)(2000,0.646)(2050,0.649)(2100,0.647)(2150,0.643)(2200,0.642)(2250,0.6424)(2300,0.6388)(2350,0.6341)(2400,0.6344)(2450,0.6355)(2500,0.6335)(2550,0.629)(2600,0.6284)(2650,0.6301)(2700,0.6268)(2750,0.6228)(2800,0.6217)(2850,0.6227)(2900,0.6196)(2950,0.6143)(3000,0.614)(3050,0.6157)(3100,0.6144)(3150,0.6106)(3200,0.6108)(3250,0.6133)(3300,0.6107)(3350,0.6077)(3400,0.6076)(3450,0.6098)(3500,0.608)(3600,0.6019)(3700,0.5988)(3800,0.5922)(3900,0.5891)(4000,0.583)(4100,0.5834)(4200,0.5798)(4300,0.5797)(4400,0.5766)(4500,0.577)(4600,0.5705)(4700,0.567)(4800,0.560)(4900,0.5565)(5000,0.550)(5100,0.5468)(5200,0.540)(5300,0.5363)(5400,0.529)(5460,0.527)(5500,0.526)(5512,0.525)(5515,0.510)(5535,0.510)(5540,0.524)(5570,0.521)(5600,0.519)(5603,0.514)(5630,0.514)(5660,0.513)(5665,0.520)(5690,0.515)(5720,0.509)(5760,0.505)(5800,0.501)(5840,0.498)(5874,0.496)};
% blue C
\addplot[mb] coordinates {(0,0.608)(1,0.722)(4,0.645)(12,0.638)(25,0.652)(40,0.676)(60,0.670)(80,0.677)(100,0.672)(120,0.677)(140,0.671)(160,0.678)(180,0.672)(200,0.676)(220,0.677)(240,0.671)(260,0.676)(280,0.667)(300,0.674)(320,0.669)(340,0.675)(360,0.668)(380,0.673)(400,0.668)(420,0.674)(440,0.667)(460,0.673)(480,0.669)(500,0.675)(520,0.668)(528,0.668)(530,0.720)(532,0.658)(540,0.661)(570,0.6637)(600,0.6613)(625,0.6581)(650,0.6588)(675,0.6628)(700,0.6608)(725,0.6568)(750,0.6577)(775,0.6605)(800,0.6592)(825,0.6547)(850,0.6561)(875,0.6596)(900,0.6581)(925,0.6551)(950,0.656)(975,0.6595)(1000,0.657)(1050,0.6529)(1100,0.6538)(1150,0.6562)(1200,0.6546)(1278,0.6525)(1280,0.597)(1283,0.652)(1300,0.652)(1350,0.6541)(1400,0.6522)(1450,0.6484)(1500,0.6495)(1550,0.6506)(1600,0.6486)(1650,0.6444)(1700,0.6442)(1750,0.6463)(1800,0.6433)(1850,0.6399)(1900,0.6394)(1950,0.6412)(2000,0.639)(2050,0.6368)(2100,0.6395)(2150,0.638)(2200,0.6335)(2250,0.6289)(2300,0.6282)(2350,0.6279)(2400,0.6226)(2450,0.6201)(2500,0.6205)(2550,0.6202)(2600,0.6158)(2650,0.6127)(2700,0.6146)(2750,0.6138)(2800,0.6099)(2850,0.6071)(2900,0.6082)(2950,0.6081)(3000,0.603)(3050,0.6015)(3100,0.603)(3150,0.603)(3200,0.599)(3250,0.5963)(3300,0.5985)(3350,0.5983)(3400,0.595)(3450,0.593)(3500,0.595)(3600,0.5867)(3700,0.5814)(3800,0.5726)(3900,0.5673)(4000,0.559)(4100,0.5578)(4200,0.5526)(4300,0.5509)(4400,0.5462)(4500,0.545)(4600,0.5343)(4700,0.5266)(4715,0.524)(4720,0.530)(4725,0.518)(4735,0.523)(4800,0.5154)(4900,0.5077)(5000,0.497)(5100,0.4891)(5200,0.4773)(5300,0.4686)(5400,0.4565)(5460,0.450)(5500,0.446)(5512,0.445)(5515,0.426)(5535,0.427)(5540,0.452)(5570,0.447)(5600,0.443)(5603,0.438)(5630,0.437)(5660,0.436)(5686,0.440)(5688,0.689)(5690,0.384)(5692,0.440)(5720,0.436)(5760,0.428)(5800,0.420)(5840,0.414)(5874,0.408)};
\end{axis}
\pgfresetboundingbox
\path[use as bounding box] ($(bl)+(-52.5pt,-29.5pt)$) rectangle ($(tr)+(11pt,23.5pt)$);
\end{tikzpicture}
\end{document}
